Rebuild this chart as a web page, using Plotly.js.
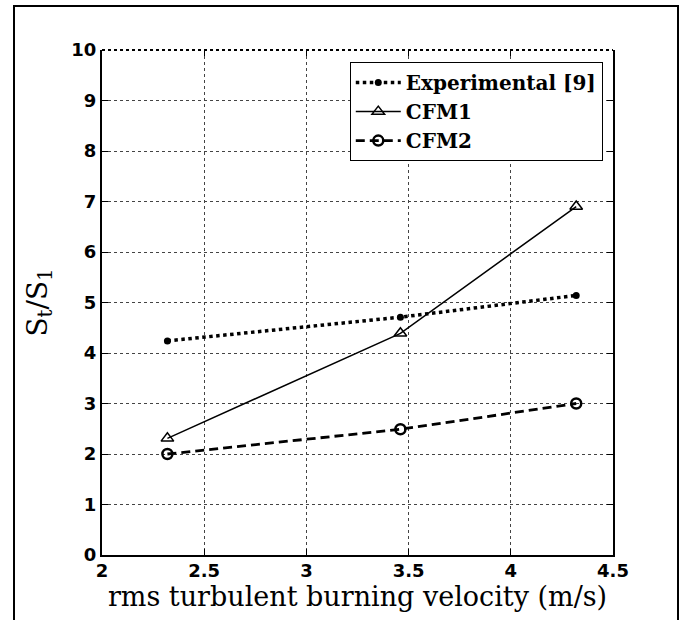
<!DOCTYPE html>
<html>
<head>
<meta charset="utf-8">
<script src="https://cdn.plot.ly/plotly-3.0.1.min.js"></script>
<style>
html,body{margin:0;padding:0;background:#fff;overflow:hidden;}
#frame{position:absolute;left:13px;top:5px;width:662px;height:640px;border:2px solid #000;pointer-events:none;z-index:5;}
#chart{position:absolute;left:0;top:0;width:680px;height:620px;}
</style>
</head>
<body>
<div id="chart"></div>
<div id="frame"></div>
<script>
// Data
const velocity = [2.32, 3.46, 4.32];
const experimental = [4.24, 4.71, 5.14];
const cfm1 = [2.31, 4.39, 6.9];
const cfm2 = [2.0, 2.49, 3.0];
const seriesNames = ["Experimental [9]", "CFM1", "CFM2"];
const xTicks = [2, 2.5, 3, 3.5, 4, 4.5];
const xTickText = ["2", "2.5", "3", "3.5", "4", "4.5"];
const yTicks = [0,1,2,3,4,5,6,7,8,9,10];

const traces = [
  {x: velocity, y: experimental, name: seriesNames[0], mode: "lines+markers",
   line: {color: "#000", width: 3.5, dash: "dot"},
   marker: {symbol: "circle", size: 7, color: "#000"}},
  {x: velocity, y: cfm1, name: seriesNames[1], mode: "lines+markers",
   line: {color: "#000", width: 1.5},
   marker: {symbol: "triangle-up-open", size: 11, color: "#000", line: {width: 1.5}}},
  {x: velocity, y: cfm2, name: seriesNames[2], mode: "lines+markers",
   line: {color: "#000", width: 2.8, dash: "9px,5px"},
   marker: {symbol: "circle-open", size: 10, color: "#000", line: {width: 2.5}}}
];

const tickFont = {family: "DejaVu Sans, sans-serif", size: 18, color: "#000", weight: "bold"};
const layout = {
  width: 680, height: 620,
  margin: {l: 102, r: 67, t: 50, b: 65},
  paper_bgcolor: "#fff", plot_bgcolor: "#fff",
  showlegend: true,
  legend: {x: 0.98, xanchor: "right", y: 0.976, yanchor: "top",
    bordercolor: "#000", borderwidth: 1, bgcolor: "#fff", itemwidth: 45,
    font: {family: "DejaVu Serif, serif", size: 20, color: "#000", weight: "bold"}},
  xaxis: {range: [2, 4.5], tickvals: xTicks, ticktext: xTickText,
    showline: true, linecolor: "#000", linewidth: 2, mirror: false,
    ticks: "inside", ticklen: 6, tickcolor: "#000", tickwidth: 1,
    showgrid: true, gridcolor: "#444", griddash: "dot", gridwidth: 1,
    zeroline: false, tickfont: tickFont, ticklabelstandoff: -2,
    title: {text: "rms turbulent burning velocity (m/s)", standoff: 0,
      font: {family: "DejaVu Serif, serif", size: 27, color: "#000"}}},
  xaxis2: {range: [2, 4.5], tickvals: xTicks, overlaying: "x", side: "top",
    showline: false, ticks: "inside", ticklen: 6, tickcolor: "#000",
    showticklabels: false, showgrid: false, zeroline: false},
  yaxis: {range: [0, 10], tickvals: yTicks,
    showline: true, linecolor: "#000", linewidth: 2, mirror: "ticks",
    ticks: "inside", ticklen: 6, tickcolor: "#000", tickwidth: 1,
    showgrid: true, gridcolor: "#444", griddash: "dot", gridwidth: 1,
    zeroline: false, tickfont: tickFont,
    title: {text: "S<sub>t</sub>/S<sub>1</sub>", standoff: 16,
      font: {family: "DejaVu Serif, serif", size: 28, color: "#000"}}},
  shapes: [{type: "line", xref: "paper", yref: "paper", x0: 0, x1: 1, y0: 1, y1: 1,
    line: {color: "#000", width: 2, dash: "dot"}}]
};
// invisible trace to activate the top tick axis
traces.push({x: [2], y: [0], xaxis: "x2", yaxis: "y", mode: "markers",
  marker: {opacity: 0}, showlegend: false, hoverinfo: "skip"});

Plotly.newPlot("chart", traces, layout, {displayModeBar: false, staticPlot: true});
</script>
</body>
</html>
